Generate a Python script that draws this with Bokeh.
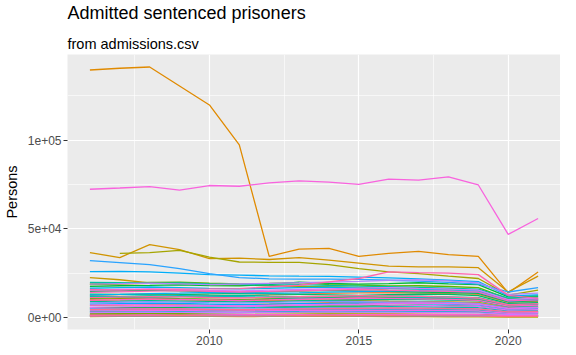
import math
from bokeh.plotting import figure
from bokeh.models import ColumnDataSource, FixedTicker, Range1d, Title
from bokeh.embed import file_html
from bokeh.resources import INLINE

NA = float("nan")
years = list(range(2006, 2022))

# Admitted sentenced prisoners, thousands of persons, one list per group, 2006..2021
s00 = [9.5, 9.8, 10.1, 10.0, 9.7, 9.9, 10.3, 10.6, 10.4, 10.2, 10.5, 10.8, 10.6, 10.1, 6.9, 7.4]
s01 = [1.2, 1.3, 1.3, 1.4, 1.3, 1.2, 1.3, 1.4, 1.5, 1.4, 1.3, 1.4, 1.3, 1.2, 0.9, 1.0]
s02 = [12.5, 12.9, 13.4, 13.1, 12.6, 12.3, 12.8, 13.2, 13.6, 13.9, 14.1, 13.8, 13.5, 13.0, 8.6, 9.1]
s03 = [6.8, 7.0, 7.3, 7.1, 6.9, 7.2, 7.6, 8.0, 8.4, 8.2, 8.6, 8.9, 8.5, 8.1, 5.6, 6.0]
s04 = [139.5, 140.5, 141.2, 130.5, 119.8, 97.3, 34.5, 38.5, 39.0, 34.5, 36.2, 37.3, 35.5, 34.5, 13.9, 25.7]
s05 = [10.2, 10.6, 10.9, 10.3, 9.8, 9.4, 9.6, 9.9, 9.7, 9.5, 9.2, 9.0, 8.8, 8.5, 5.4, 5.9]
s06 = [36.6, 33.8, 41.1, 38.3, 33.2, 33.5, 32.7, 33.8, 32.4, 30.7, 29.0, 28.5, 28.5, 28.1, 14.4, 23.3]
s07 = [22.5, 21.3, 19.5, 19.0, 18.6, 18.3, 18.0, 17.5, 17.2, 16.8, 15.3, 14.9, 14.5, 14.0, 9.0, 10.2]
s08 = [1.8, 1.9, 2.0, 1.9, 1.8, 1.7, 1.8, 1.9, 2.0, 2.1, 2.0, 1.9, 1.8, 1.7, 1.1, 1.3]
s09 = [0.5, 0.6, 0.7, 0.6, 0.6, 0.5, 0.6, 0.6, 0.7, 0.6, 0.5, 0.5, 0.4, 0.4, 0.3, 0.3]
s10 = [NA, 36.2, 36.6, 37.9, 34.1, 31.3, 31.1, 31.1, 29.8, 27.6, 25.7, 24.8, 23.3, 22.0, 12.6, 15.4]
s11 = [18.5, 18.8, 19.2, 19.6, 18.9, 18.4, 18.0, 17.6, 17.2, 16.9, 16.5, 16.1, 15.8, 15.2, 9.8, 10.6]
s12 = [1.5, 1.6, 1.7, 1.8, 1.7, 1.6, 1.7, 1.8, 1.9, 1.8, 1.7, 1.6, 1.6, 1.5, 1.0, 1.1]
s13 = [2.2, 2.3, 2.5, 2.4, 2.6, 2.8, 2.9, 3.1, 3.0, 3.2, 3.3, 3.4, 3.2, 3.0, 2.1, 2.4]
s14 = [19.0, 19.3, 19.8, 20.0, 19.4, 18.9, 19.2, 19.7, 18.6, 18.3, 17.8, 17.9, 17.5, 16.8, 10.5, 11.8]
s15 = [10.8, 11.2, 11.0, 10.6, 10.4, 10.1, 10.5, 10.9, 11.3, 11.6, 11.4, 11.1, 10.7, 10.2, 6.8, 7.5]
s16 = [5.5, 5.7, 5.6, 5.8, 6.0, 6.2, 6.1, 6.4, 6.6, 6.5, 6.8, 7.0, 6.7, 6.3, 4.2, 4.6]
s17 = [17.6, 17.9, 18.1, 18.4, 18.0, 17.8, 18.6, 19.9, 19.2, 18.8, 19.1, 19.6, 19.0, 18.5, 11.6, 12.2]
s18 = [14.8, 15.1, 15.4, 15.0, 14.6, 14.2, 14.5, 14.9, 15.3, 15.0, 14.7, 14.4, 14.1, 13.6, 8.9, 9.6]
s19 = [13.2, 13.0, 12.7, 12.9, 13.3, 13.6, 13.4, 13.1, 12.8, 12.5, 12.9, 13.2, 13.0, 12.4, 7.9, 8.4]
s20 = [3.5, 3.6, 3.8, 3.7, 3.9, 4.1, 4.0, 4.2, 4.4, 4.3, 4.5, 4.6, 4.4, 4.2, 2.8, 3.1]
s21 = [9.0, 9.2, 9.5, 9.3, 9.1, 8.8, 9.0, 9.4, 9.7, 10.0, 10.3, 10.1, 9.8, 9.4, 6.2, 6.6]
s22 = [12.0, 11.7, 11.4, 11.8, 12.2, 12.5, 12.1, 11.8, 11.5, 11.9, 12.3, 12.0, 11.6, 11.2, 7.4, 8.0]
s23 = [19.8, 19.6, 19.2, 19.5, 19.0, 18.7, 18.3, 18.5, 18.1, 17.7, 17.4, 17.0, 16.6, 16.0, 11.0, 11.5]
s24 = [5.0, 5.2, 5.1, 5.3, 5.5, 5.4, 5.6, 5.8, 5.7, 5.9, 6.1, 6.0, 5.8, 5.5, 3.7, 4.0]
s25 = [11.5, 11.8, 12.1, 12.4, 12.0, 11.7, 11.3, 11.0, 10.8, 10.6, 10.9, 11.2, 11.0, 10.5, 7.0, 7.6]
s26 = [3.0, 3.1, 3.2, 3.3, 3.2, 3.1, 3.3, 3.5, 3.6, 3.4, 3.3, 3.5, 3.4, 3.2, 2.2, 2.4]
s27 = [4.2, 4.4, 4.6, 4.5, 4.3, 4.1, 4.3, 4.5, 4.7, 4.9, 4.8, 5.0, 4.8, 4.6, 3.0, 3.3]
s28 = [0.9, 1.0, 1.0, 1.1, 1.0, 0.9, 1.0, 1.1, 1.1, 1.0, 1.0, 1.1, 1.0, 0.9, 0.6, 0.7]
s29 = [16.5, 16.9, 17.2, 16.8, 16.4, 16.1, 16.5, 16.8, 17.1, 16.7, 16.3, 16.0, 15.6, 15.0, 9.6, 10.3]
s30 = [12.8, 13.1, 13.5, 13.8, 14.2, 14.0, 13.7, 13.9, 14.3, 14.6, 14.9, 15.2, 14.8, 14.2, 9.3, 9.9]
s31 = [25.9, 26.0, 25.7, 25.0, 24.2, 23.9, 23.5, 23.3, 23.2, 22.8, 22.4, 21.8, 21.0, 20.2, 12.2, 12.8]
s32 = [7.5, 7.8, 8.1, 7.9, 7.6, 7.3, 7.5, 7.8, 8.0, 8.3, 8.1, 7.9, 7.6, 7.2, 4.8, 5.2]
s33 = [32.1, 31.0, 29.8, 27.6, 24.8, 22.5, 21.8, 21.6, 21.7, 21.5, 21.0, 20.5, 19.8, 18.8, 14.4, 16.9]
s34 = [1.0, 1.1, 1.2, 1.1, 1.2, 1.3, 1.2, 1.1, 1.2, 1.3, 1.4, 1.3, 1.2, 1.1, 0.8, 0.8]
s35 = [8.3, 8.6, 8.9, 8.7, 8.4, 8.2, 8.5, 8.8, 9.1, 8.9, 8.6, 8.8, 8.5, 8.0, 5.3, 5.8]
s36 = [4.8, 4.9, 5.1, 5.0, 4.9, 4.7, 4.9, 5.2, 5.4, 5.3, 5.1, 5.2, 5.0, 4.8, 3.1, 3.4]
s37 = [18.8, 19.1, 19.4, 19.0, 18.6, 18.9, 19.3, 19.6, 20.0, 20.4, 20.9, 21.3, 20.7, 19.6, 13.0, 13.8]
s38 = [2.8, 2.9, 3.0, 2.9, 2.8, 2.7, 2.9, 3.0, 3.2, 3.1, 3.0, 2.9, 2.8, 2.6, 1.7, 1.9]
s39 = [15.5, 15.8, 16.1, 15.7, 15.3, 15.0, 15.4, 15.8, 16.2, 16.6, 16.9, 16.4, 16.0, 15.4, 10.1, 10.9]
s40 = [5.8, 6.0, 6.3, 6.5, 6.4, 6.2, 6.5, 6.8, 7.1, 7.3, 7.0, 6.8, 6.6, 6.3, 4.2, 4.5]
s41 = [7.0, 7.2, 7.1, 6.9, 6.7, 6.5, 6.8, 7.1, 7.4, 7.6, 7.9, 8.2, 7.8, 7.4, 5.0, 5.5]
s42 = [3.8, 3.9, 4.1, 4.0, 3.8, 3.7, 3.9, 4.0, 4.2, 4.1, 4.0, 4.1, 3.9, 3.7, 2.4, 2.7]
s43 = [72.3, 73.0, 73.8, 71.8, 74.4, 74.0, 75.9, 77.0, 76.3, 75.1, 78.0, 77.4, 79.3, 74.7, 46.9, 55.8]
s44 = [1.3, 1.4, 1.5, 1.4, 1.5, 1.6, 1.7, 1.6, 1.5, 1.6, 1.7, 1.8, 1.7, 1.6, 1.1, 1.2]
s45 = [9.8, 10.1, 10.5, 10.2, 9.9, 9.6, 9.9, 10.3, 10.7, 11.0, 10.8, 10.5, 10.2, 9.7, 6.4, 7.0]
s46 = [14.2, 14.5, 14.9, 15.2, 14.8, 14.4, 14.7, 15.1, 15.5, 15.8, 15.5, 15.1, 14.8, 14.3, 9.4, 10.0]
s47 = [15.8, 15.5, 15.9, 16.0, 16.1, 16.3, 17.2, 18.2, 20.1, 22.0, 25.7, 25.3, 25.0, 24.2, 12.5, 10.8]
s48 = [11.2, 11.5, 11.8, 11.6, 11.3, 11.0, 11.4, 11.7, 12.0, 12.4, 12.2, 11.9, 11.5, 11.0, 7.2, 7.8]
s49 = [4.5, 4.7, 4.9, 4.8, 4.6, 4.4, 4.6, 4.8, 5.0, 5.2, 5.4, 5.3, 5.1, 4.9, 3.2, 3.5]
s50 = [0.8, 0.9, 0.9, 1.0, 0.9, 0.8, 0.9, 1.0, 1.0, 1.1, 1.0, 0.9, 0.9, 0.8, 0.5, 0.6]

series = [s00, s01, s02, s03, s04, s05, s06, s07, s08, s09, s10, s11, s12, s13, s14, s15,
          s16, s17, s18, s19, s20, s21, s22, s23, s24, s25, s26, s27, s28, s29, s30, s31,
          s32, s33, s34, s35, s36, s37, s38, s39, s40, s41, s42, s43, s44, s45, s46, s47,
          s48, s49, s50]

title_text = "Admitted sentenced prisoners"
subtitle_text = "from admissions.csv"
y_title = "Persons"
x_ticks = [2010, 2015, 2020]
x_minor = [2007.5, 2012.5, 2017.5]
y_ticks = [0, 50000, 100000]
y_minor = [25000, 75000, 125000]
y_tick_labels = ["0e+00", "5e+04", "1e+05"]


def hcl_hex(h, c=100.0, l=65.0):
    hr = math.radians(h)
    U = c * math.cos(hr)
    V = c * math.sin(hr)
    Y = 100.0 * ((l + 16) / 116) ** 3
    u = U / (13 * l) + 0.1978398
    v = V / (13 * l) + 0.4683363
    X = 9.0 * Y * u / (4 * v)
    Z = -X / 3 - 5 * Y + 3 * Y / v

    def g(t):
        t = t / 100.0
        t = 1.055 * t ** (1 / 2.4) - 0.055 if t > 0.00304 else 12.92 * t
        return max(0, min(255, int(round(255 * t))))

    r = g(3.240479 * X - 1.537150 * Y - 0.498535 * Z)
    gg = g(-0.969256 * X + 1.875992 * Y + 0.041556 * Z)
    b = g(0.055648 * X - 0.204043 * Y + 1.057311 * Z)
    return "#%02X%02X%02X" % (r, gg, b)


n = len(series)
colors = [hcl_hex(15 + 360.0 * i / n) for i in range(n)]

persons = [[v * 1000 for v in s] for s in series]
vals = [v for s in persons for v in s if not math.isnan(v)]
ymin, ymax = min(vals), max(vals)
ypad = 0.05 * (ymax - ymin)
xpad = 0.05 * (years[-1] - years[0])

FONT = "Liberation Sans"

p = figure(width=560, height=347, output_backend="svg", toolbar_location=None,
           title=None,
           x_range=Range1d(years[0] - xpad, years[-1] + xpad),
           y_range=Range1d(ymin - ypad, ymax + ypad),
           min_border_left=60, min_border_right=0, min_border_top=46, min_border_bottom=0)

p.add_layout(Title(text=subtitle_text, text_font=FONT, text_font_size="14.5px",
                   text_font_style="normal", text_color="black", align="left",
                   text_line_height=0.8, standoff=5, padding=(0, 0, 9, 0)), "above")
p.add_layout(Title(text=title_text, text_font=FONT, text_font_size="18px",
                   text_font_style="normal", text_color="black", align="left",
                   text_line_height=0.9, standoff=0), "above")

p.background_fill_color = "#EBEBEB"
p.border_fill_color = "white"
p.outline_line_color = None

for ys, col in zip(persons, colors):
    src = ColumnDataSource(dict(x=years, y=ys))
    p.line("x", "y", source=src, line_color=col, line_width=1.3)

p.xaxis.ticker = FixedTicker(ticks=x_ticks, minor_ticks=x_minor)
p.yaxis.ticker = FixedTicker(ticks=y_ticks, minor_ticks=y_minor)
p.yaxis.major_label_overrides = {t: lab for t, lab in zip(y_ticks, y_tick_labels)}

for ax in (p.xaxis, p.yaxis):
    ax.axis_line_color = None
    ax.major_tick_line_color = "#333333"
    ax.major_tick_out = 4
    ax.major_tick_in = 0
    ax.minor_tick_line_color = None
    ax.minor_tick_out = 0
    ax.minor_tick_in = 0
    ax.major_label_text_font = FONT
    ax.major_label_text_font_size = "12px"
    ax.major_label_text_color = "#4D4D4D"
    ax.major_label_standoff = 2

p.xaxis.axis_label = None

p.yaxis.axis_label = y_title
p.yaxis.axis_label_text_font = FONT
p.yaxis.axis_label_text_font_size = "14.5px"
p.yaxis.axis_label_text_font_style = "normal"
p.yaxis.axis_label_text_color = "black"
p.yaxis.axis_label_standoff = 5

for gr in (p.xgrid, p.ygrid):
    gr.grid_line_color = "white"
    gr.grid_line_width = 1.2
    gr.minor_grid_line_color = "white"
    gr.minor_grid_line_width = 0.6

open("out.html", "w").write(file_html(p, INLINE))
